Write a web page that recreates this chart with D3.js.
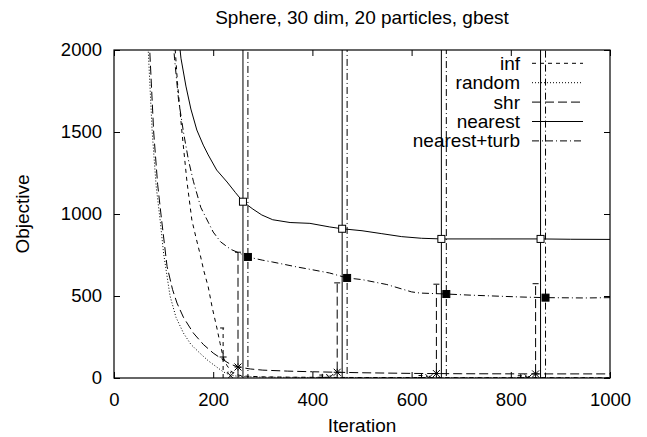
<!DOCTYPE html>
<html lang="en">
  <head>
    <meta charset="utf-8" />
    <title>Sphere, 30 dim, 20 particles, gbest</title>
    <style>
      body { margin: 0; background: #fff; }
      svg { display: block; font-family: "Liberation Sans", Arial, Helvetica, sans-serif; }
    </style>
  </head>
  <body>
    <div id="graph-display"></div>
    <script src="https://cdnjs.cloudflare.com/ajax/libs/d3/7.8.5/d3.min.js"></script>
    <script>
      // tick labels
      const iterTicks = [0, 200, 400, 600, 800, 1000];
      const objTicks = [0, 500, 1000, 1500, 2000];

      // inf  (short dashes, "+")
      const infIter = [120, 128, 137, 147, 157, 165, 173, 181, 190, 198, 207, 214, 220, 228, 236, 245, 260, 300, 350, 420, 500, 620, 700, 820, 900, 1000];
      const infVal  = [2150, 1800, 1500, 1200, 963, 860, 762, 655, 555, 430, 311, 210, 128, 75, 42, 22, 12, 7, 5, 4, 3, 3, 2, 2, 2, 2];
      const infErrIter = [220, 420, 620, 820];
      const infErrMean = [128, 4, 3, 2];
      const infErrHalf = [177, 14, 12, 12];

      // random (dotted, "x")
      const randIter = [64, 69, 77, 85, 93, 100, 113, 125, 140, 155, 173, 190, 207, 220, 234, 250, 300, 400, 600, 1000];
      const randVal  = [2300, 2000, 1500, 1170, 963, 760, 500, 370, 274, 205, 152, 105, 67, 38, 18, 10, 5, 3, 2, 1];
      const randErrIter = [235, 435, 635, 835];
      const randErrMean = [14, 3, 2, 1];
      const randErrHalf = [22, 10, 8, 8];

      // shr (long dashes, "*")
      const shrIter = [67, 72, 80, 88, 96, 107, 118, 127, 140, 160, 180, 200, 218, 234, 250, 275, 300, 350, 400, 450, 500, 600, 700, 850, 1000];
      const shrVal  = [2300, 2000, 1500, 1180, 963, 680, 540, 457, 370, 274, 205, 152, 115, 85, 67, 55, 48, 42, 38, 35, 32, 28, 26, 25, 25];
      const shrErrIter = [250, 450, 650, 850];
      const shrErrMean = [67, 35, 27, 25];
      const shrErrHalf = [700, 545, 545, 550];

      // nearest (solid, open square)
      const nearIter = [128, 135, 145, 155, 167, 180, 190, 207, 228, 245, 260, 280, 298, 320, 355, 395, 435, 460, 500, 540, 580, 620, 660, 760, 860, 920, 1000];
      const nearVal  = [2150, 1950, 1780, 1640, 1512, 1420, 1360, 1268, 1195, 1130, 1075, 1030, 994, 965, 948, 943, 921, 910, 898, 880, 862, 852, 848, 848, 848, 846, 845];
      const nearErrIter = [260, 460, 660, 860];
      const nearErrMean = [1075, 910, 848, 848];
      const nearErrHalf = [4000, 4000, 4000, 4000];

      // nearest+turb (dash-dot, filled square)
      const turbIter = [117, 122, 130, 140, 150, 160, 175, 190, 200, 215, 235, 248, 270, 300, 320, 369, 400, 435, 470, 500, 550, 600, 617, 670, 720, 819, 870, 950, 1000];
      const turbVal  = [2150, 1950, 1700, 1500, 1330, 1200, 1040, 950, 890, 830, 785, 768, 738, 718, 707, 677, 660, 640, 610, 600, 570, 525, 518, 512, 505, 494, 490, 488, 490];
      const turbErrIter = [270, 470, 670, 870];
      const turbErrMean = [738, 610, 512, 490];
      const turbErrHalf = [4000, 4000, 4000, 4000];

      const seriesNames = ["inf", "random", "shr", "nearest", "nearest+turb"];

      const width = 647, height = 437;
      const plotLeft = 114, plotRight = 610, plotTop = 50, plotBottom = 378;
      const font = "'Liberation Sans', Arial, Helvetica, sans-serif";

      const x = d3.scaleLinear().domain([0, 1000]).range([plotLeft, plotRight]);
      const y = d3.scaleLinear().domain([0, 2000]).range([plotBottom, plotTop]);

      const series = [
        { name: seriesNames[0], it: infIter, v: infVal, eIt: infErrIter, eM: infErrMean, eH: infErrHalf, dash: "4,4", pt: "plus" },
        { name: seriesNames[1], it: randIter, v: randVal, eIt: randErrIter, eM: randErrMean, eH: randErrHalf, dash: "1,2", pt: "cross" },
        { name: seriesNames[2], it: shrIter, v: shrVal, eIt: shrErrIter, eM: shrErrMean, eH: shrErrHalf, dash: "9,4", pt: "star" },
        { name: seriesNames[3], it: nearIter, v: nearVal, eIt: nearErrIter, eM: nearErrMean, eH: nearErrHalf, dash: null, pt: "box" },
        { name: seriesNames[4], it: turbIter, v: turbVal, eIt: turbErrIter, eM: turbErrMean, eH: turbErrHalf, dash: "7,3,1,3", pt: "fbox" }
      ];

      const svg = d3.select("#graph-display")
        .append("svg")
        .attr("width", width)
        .attr("height", height);

      svg.append("defs").append("clipPath").attr("id", "plot-clip")
        .append("rect")
        .attr("x", plotLeft).attr("y", plotTop)
        .attr("width", plotRight - plotLeft).attr("height", plotBottom - plotTop);

      // axes, ticks pointing inward on all four sides
      const tickLen = 6;
      svg.append("g")
        .attr("transform", `translate(0,${plotBottom})`)
        .call(d3.axisBottom(x).tickValues(iterTicks).tickSize(-tickLen).tickPadding(15).tickFormat(d3.format("d")));
      svg.append("g")
        .attr("transform", `translate(0,${plotTop})`)
        .call(d3.axisTop(x).tickValues(iterTicks).tickSize(-tickLen).tickFormat(""));
      svg.append("g")
        .attr("transform", `translate(${plotLeft},0)`)
        .call(d3.axisLeft(y).tickValues(objTicks).tickSize(-tickLen).tickPadding(12).tickFormat(d3.format("d")));
      svg.append("g")
        .attr("transform", `translate(${plotRight},0)`)
        .call(d3.axisRight(y).tickValues(objTicks).tickSize(-tickLen).tickFormat(""));

      svg.selectAll(".domain").remove();
      svg.selectAll(".tick line").attr("stroke", "#000");
      svg.selectAll(".tick text")
        .attr("fill", "#000")
        .style("font-size", "18.5px")
        .style("font-family", font);

      svg.append("rect")
        .attr("x", plotLeft).attr("y", plotTop)
        .attr("width", plotRight - plotLeft).attr("height", plotBottom - plotTop)
        .attr("fill", "none").attr("stroke", "#000").attr("stroke-width", 1.2);

      const plot = svg.append("g").attr("clip-path", "url(#plot-clip)");

      const line = d3.line().x((d) => x(d[0])).y((d) => y(d[1]));

      series.forEach((s) => {
        const pts = s.it.map((t, i) => [t, s.v[i]]);
        plot.append("path")
          .datum(pts)
          .attr("d", line)
          .attr("fill", "none")
          .attr("stroke", "#000")
          .attr("stroke-width", 1)
          .attr("stroke-dasharray", s.dash);

        // error bars
        s.eIt.forEach((t, i) => {
          const cx = x(t);
          const lo = y(s.eM[i] - s.eH[i]);
          const hi = y(s.eM[i] + s.eH[i]);
          const g = plot.append("g")
            .attr("stroke", "#000")
            .attr("stroke-width", 1)
            .attr("stroke-dasharray", s.dash);
          g.append("line").attr("x1", cx).attr("x2", cx).attr("y1", lo).attr("y2", hi);
          g.append("line").attr("x1", cx - 3).attr("x2", cx + 3).attr("y1", lo).attr("y2", lo);
          g.append("line").attr("x1", cx - 3).attr("x2", cx + 3).attr("y1", hi).attr("y2", hi);

          // point symbol
          const cy = y(s.eM[i]);
          const r = 3.5;
          const p = plot.append("g").attr("stroke", "#000").attr("stroke-width", 1).attr("fill", "none");
          if (s.pt === "plus" || s.pt === "star") {
            p.append("line").attr("x1", cx - r).attr("x2", cx + r).attr("y1", cy).attr("y2", cy);
            p.append("line").attr("x1", cx).attr("x2", cx).attr("y1", cy - r).attr("y2", cy + r);
          }
          if (s.pt === "cross" || s.pt === "star") {
            p.append("line").attr("x1", cx - r).attr("x2", cx + r).attr("y1", cy - r).attr("y2", cy + r);
            p.append("line").attr("x1", cx - r).attr("x2", cx + r).attr("y1", cy + r).attr("y2", cy - r);
          }
          if (s.pt === "box") {
            p.append("rect").attr("x", cx - r).attr("y", cy - r).attr("width", 2 * r).attr("height", 2 * r).attr("fill", "#fff");
          }
          if (s.pt === "fbox") {
            p.append("rect").attr("x", cx - r).attr("y", cy - r).attr("width", 2 * r).attr("height", 2 * r).attr("fill", "#000");
          }
        });
      });

      // legend
      const legend = svg.append("g").style("font-family", font);
      series.forEach((s, i) => {
        const ly = 63.3 + i * 19.4;
        legend.append("text")
          .attr("x", 520).attr("y", ly + 6.5)
          .attr("text-anchor", "end")
          .style("font-size", "19px")
          .text(s.name);
        legend.append("line")
          .attr("x1", 532).attr("x2", 583)
          .attr("y1", ly).attr("y2", ly)
          .attr("stroke", "#000").attr("stroke-width", 1)
          .attr("stroke-dasharray", s.dash);
      });

      // titles
      svg.append("text")
        .attr("x", (plotLeft + plotRight) / 2).attr("y", 24)
        .attr("text-anchor", "middle")
        .style("font-size", "19px")
        .text("Sphere, 30 dim, 20 particles, gbest");
      svg.append("text")
        .attr("x", (plotLeft + plotRight) / 2).attr("y", 432)
        .attr("text-anchor", "middle")
        .style("font-size", "19px")
        .text("Iteration");
      svg.append("text")
        .attr("transform", `translate(29,${(plotTop + plotBottom) / 2}) rotate(-90)`)
        .attr("text-anchor", "middle")
        .style("font-size", "19px")
        .text("Objective");
    </script>
  </body>
</html>
